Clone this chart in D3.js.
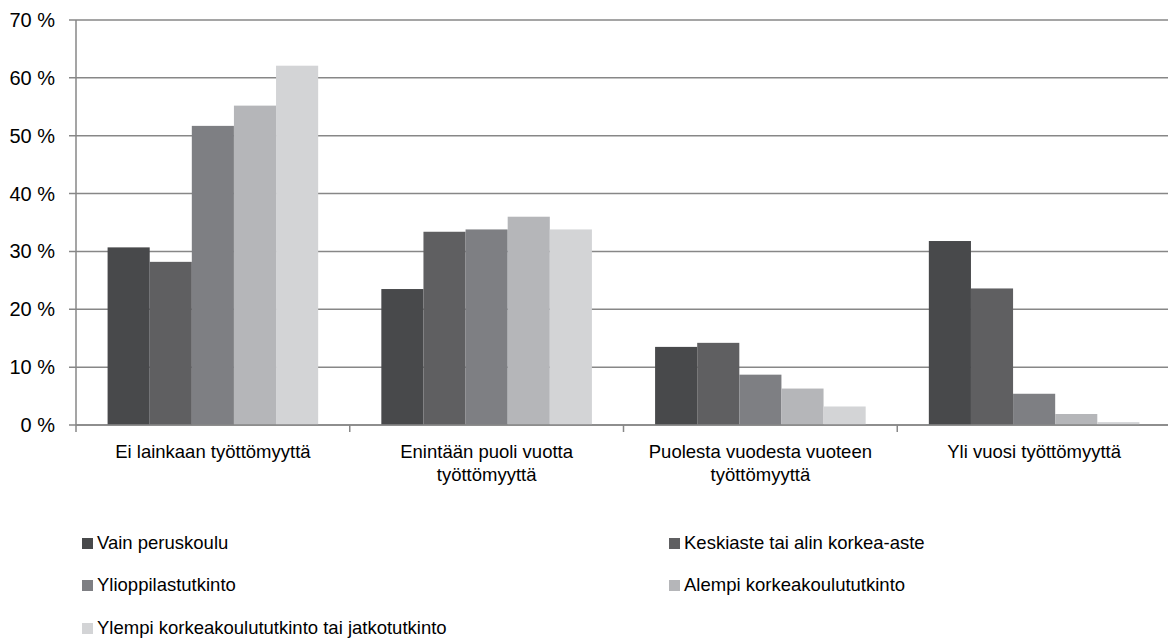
<!DOCTYPE html>
<html>
<head>
<meta charset="utf-8">
<script src="https://cdn.jsdelivr.net/npm/d3@7.9.0/dist/d3.min.js"></script>
<style>
  body { margin: 0; background: #fff; }
  svg { display: block; font-family: "Liberation Sans", Arial, sans-serif; }
</style>
</head>
<body>
<svg id="chart" width="1168" height="639"></svg>
<script>
const categories = [
  "Ei lainkaan työttömyyttä",
  "Enintään puoli vuotta työttömyyttä",
  "Puolesta vuodesta vuoteen työttömyyttä",
  "Yli vuosi työttömyyttä"
];
const seriesNames = [
  "Vain peruskoulu",
  "Keskiaste tai alin korkea-aste",
  "Ylioppilastutkinto",
  "Alempi korkeakoulututkinto",
  "Ylempi korkeakoulututkinto tai jatkotutkinto"
];
const vainPeruskoulu = [30.7, 23.5, 13.5, 31.8];
const keskiaste = [28.2, 33.4, 14.2, 23.6];
const ylioppilas = [51.7, 33.8, 8.7, 5.4];
const alempiKk = [55.2, 36.0, 6.3, 1.9];
const ylempiKk = [62.1, 33.8, 3.2, 0.5];
const yTicks = [0, 10, 20, 30, 40, 50, 60, 70];
const colors = ["#48494b", "#5f5f61", "#7e7f83", "#b5b6b9", "#d3d4d6"];

const seriesValues = [vainPeruskoulu, keskiaste, ylioppilas, alempiKk, ylempiKk];

const svg = d3.select("#chart");
const plotLeft = 76, plotRight = 1171, plotTop = 20, plotBottom = 425;
const gridColor = "#878787";

const x0 = d3.scaleBand().domain(categories).range([plotLeft, plotRight]);
const bw = x0.bandwidth();
const barW = bw / 6.5;
const x1 = d3.scaleBand().domain(seriesNames).range([0.75 * barW, bw - 0.75 * barW]);
const y = d3.scaleLinear().domain([0, 70]).range([plotBottom, plotTop]);

// gridlines
svg.append("g")
  .selectAll("line")
  .data(yTicks)
  .join("line")
  .attr("x1", plotLeft - 7)
  .attr("x2", plotRight)
  .attr("y1", (d) => y(d))
  .attr("y2", (d) => y(d))
  .attr("stroke", gridColor)
  .attr("stroke-width", 1.5);

// y axis labels
svg.append("g")
  .selectAll("text")
  .data(yTicks)
  .join("text")
  .attr("x", 55)
  .attr("y", (d) => y(d))
  .attr("dy", "0.35em")
  .attr("text-anchor", "end")
  .attr("font-size", 20)
  .attr("fill", "#000")
  .text((d) => `${d} %`);

// bars
const groups = svg.append("g")
  .selectAll("g")
  .data(categories)
  .join("g")
  .attr("transform", (d) => `translate(${x0(d)},0)`);

groups.selectAll("rect")
  .data((c, ci) => seriesNames.map((s, si) => ({ s, si, v: seriesValues[si][ci] })))
  .join("rect")
  .attr("x", (d) => x1(d.s))
  .attr("width", x1.bandwidth())
  .attr("y", (d) => y(d.v))
  .attr("height", (d) => y(0) - y(d.v))
  .attr("fill", (d) => colors[d.si]);

// axes lines
svg.append("line")
  .attr("x1", plotLeft).attr("x2", plotLeft)
  .attr("y1", plotTop).attr("y2", plotBottom + 7)
  .attr("stroke", gridColor).attr("stroke-width", 1.5);
svg.append("line")
  .attr("x1", plotLeft).attr("x2", plotRight)
  .attr("y1", plotBottom).attr("y2", plotBottom)
  .attr("stroke", gridColor).attr("stroke-width", 1.5);

// category ticks
svg.append("g")
  .selectAll("line")
  .data(categories.slice(1))
  .join("line")
  .attr("x1", (d) => x0(d))
  .attr("x2", (d) => x0(d))
  .attr("y1", plotBottom)
  .attr("y2", plotBottom + 7)
  .attr("stroke", gridColor)
  .attr("stroke-width", 1.5);

// category labels with wrapping
const catLabels = svg.append("g")
  .selectAll("text")
  .data(categories)
  .join("text")
  .attr("x", (d) => x0(d) + bw / 2)
  .attr("y", 458)
  .attr("text-anchor", "middle")
  .attr("font-size", 18.5)
  .attr("fill", "#000");

catLabels.each(function (d) {
  const t = d3.select(this);
  const words = d.split(" ");
  let line = [];
  let tspan = t.append("tspan").attr("x", x0(d) + bw / 2).attr("dy", 0);
  words.forEach((w) => {
    line.push(w);
    tspan.text(line.join(" "));
    if (tspan.node().getComputedTextLength() > 245 && line.length > 1) {
      line.pop();
      tspan.text(line.join(" "));
      line = [w];
      tspan = t.append("tspan").attr("x", x0(d) + bw / 2).attr("dy", 23).text(w);
    }
  });
});

// legend
const legendPos = [[82, 543], [669, 543], [82, 585], [669, 585], [82, 628]];
const legend = svg.append("g")
  .selectAll("g")
  .data(seriesNames)
  .join("g")
  .attr("transform", (d, i) => `translate(${legendPos[i][0]},${legendPos[i][1]})`);

legend.append("rect")
  .attr("x", 0).attr("y", -5)
  .attr("width", 11).attr("height", 11)
  .attr("fill", (d, i) => colors[i]);

legend.append("text")
  .attr("x", 15)
  .attr("dy", "0.35em")
  .attr("font-size", 18.5)
  .attr("fill", "#000")
  .text((d) => d);
</script>
</body>
</html>
